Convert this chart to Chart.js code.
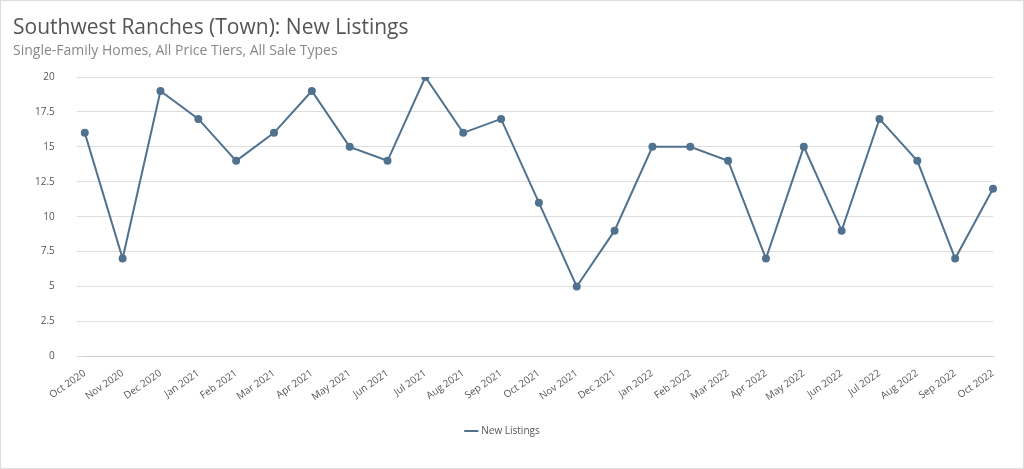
<!DOCTYPE html>
<html>
<head>
<meta charset="utf-8">
<script src="https://cdn.jsdelivr.net/npm/chart.js@4"></script>
<style>
  html, body { margin: 0; padding: 0; background: #fff; }
  #wrap { width: 1022px; height: 467px; border: 1px solid #ddd; }
</style>
</head>
<body>
<div id="wrap"><canvas id="chart" width="1022" height="467"></canvas></div>
<script>
const months = ['Oct 2020', 'Nov 2020', 'Dec 2020', 'Jan 2021', 'Feb 2021', 'Mar 2021', 'Apr 2021',
    'May 2021', 'Jun 2021', 'Jul 2021', 'Aug 2021', 'Sep 2021', 'Oct 2021', 'Nov 2021', 'Dec 2021',
    'Jan 2022', 'Feb 2022', 'Mar 2022', 'Apr 2022', 'May 2022', 'Jun 2022', 'Jul 2022', 'Aug 2022',
    'Sep 2022', 'Oct 2022'];
const newListings = [16, 7, 19, 17, 14, 16, 19, 15, 14, 20, 16, 17, 11, 5, 9, 15, 15, 14, 7, 15, 9, 17, 14, 7, 12];

const lineColor = '#50728f';
Chart.defaults.font.family = '"Open Sans", sans-serif';
Chart.defaults.color = '#555';

new Chart(document.getElementById('chart'), {
    type: 'line',
    data: {
        labels: months,
        datasets: [{
            label: 'New Listings',
            data: newListings,
            borderColor: lineColor,
            backgroundColor: lineColor,
            borderWidth: 2,
            pointRadius: 3,
            tension: 0,
        }],
    },
    options: {
        responsive: false,
        animation: false,
        layout: { padding: { left: 12, right: 30, top: 4, bottom: 22 } },
        plugins: {
            title: {
                display: true,
                text: 'Southwest Ranches (Town): New Listings',
                align: 'start',
                color: '#555',
                font: { size: 21, weight: 'normal' },
                padding: { top: 10, bottom: 2 },
            },
            subtitle: {
                display: true,
                text: 'Single-Family Homes, All Price Tiers, All Sale Types',
                align: 'start',
                color: '#888',
                font: { size: 14 },
                padding: { bottom: 18 },
            },
            legend: {
                position: 'bottom',
                labels: {
                    usePointStyle: true,
                    pointStyle: 'line',
                    font: { size: 10 },
                    color: '#555',
                    padding: 20,
                },
            },
        },
        scales: {
            x: {
                grid: { display: false },
                border: { color: '#ccc' },
                ticks: { maxRotation: 35, minRotation: 35, font: { size: 10 }, autoSkip: false },
            },
            y: {
                min: 0,
                max: 20,
                ticks: { stepSize: 2.5, font: { size: 10 }, padding: 22 },
                grid: { color: '#ddd' },
                border: { display: false },
            },
        },
    },
});
</script>
</body>
</html>
